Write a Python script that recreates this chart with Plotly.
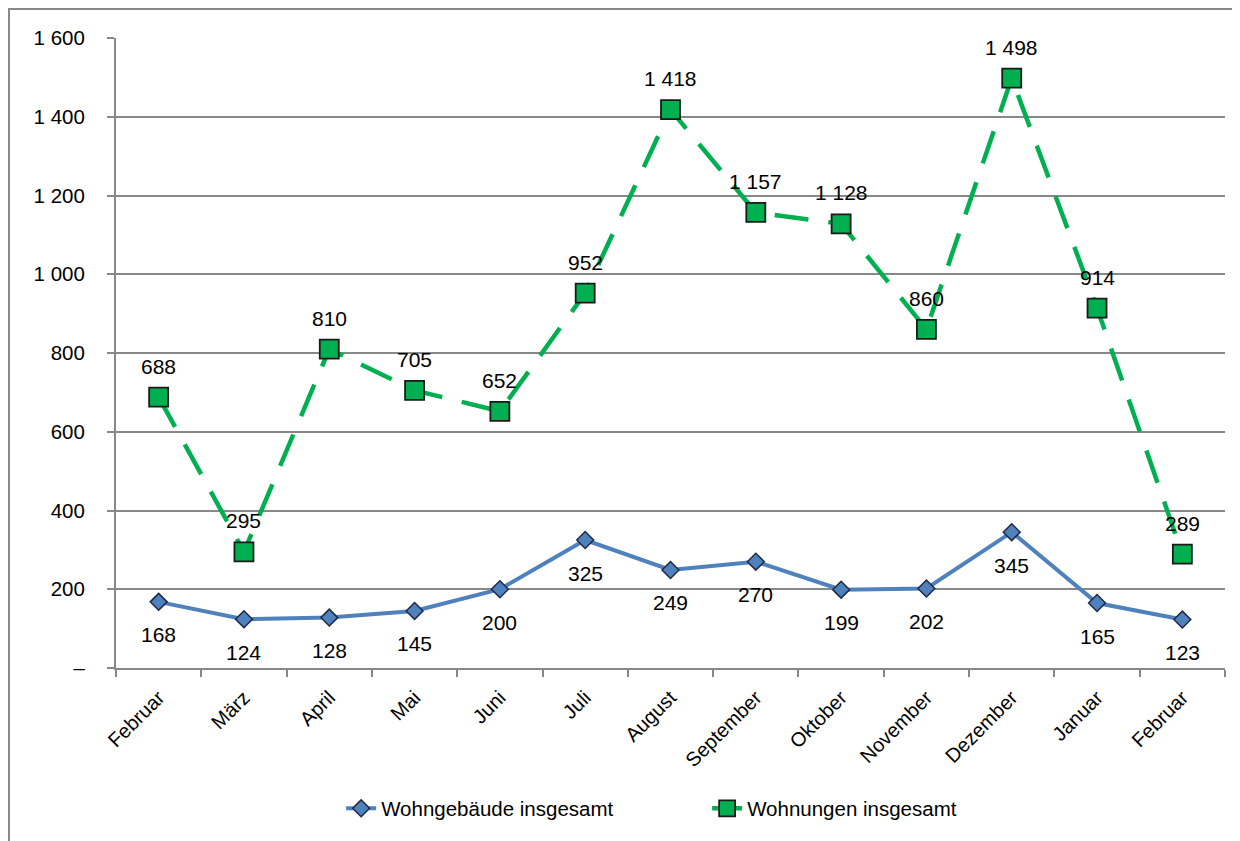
import plotly.graph_objects as go

months = ["Februar", "März", "April", "Mai", "Juni", "Juli", "August", "September",
          "Oktober", "November", "Dezember", "Januar", "Februar"]
wohngebaeude = [168, 124, 128, 145, 200, 325, 249, 270, 199, 202, 345, 165, 123]
wohnungen = [688, 295, 810, 705, 652, 952, 1418, 1157, 1128, 860, 1498, 914, 289]
y_tickvals = [0, 200, 400, 600, 800, 1000, 1200, 1400, 1600]
y_ticktext = ["–", "200", "400", "600", "800", "1 000", "1 200", "1 400", "1 600"]

x = list(range(len(months)))

def fmt(v):
    return f"{v:,}".replace(",", " ")

fig = go.Figure()
fig.add_trace(go.Scatter(
    x=x, y=wohngebaeude, mode="lines+markers", name="Wohngebäude insgesamt",
    line=dict(color="#4F81BD", width=4),
    marker=dict(symbol="diamond", size=13, color="#4F81BD", line=dict(color="#1F2A44", width=1.5)),
))
fig.add_trace(go.Scatter(
    x=x, y=wohnungen, mode="lines+markers", name="Wohnungen insgesamt",
    line=dict(color="#00B050", width=4.5, dash="34px,20px"),
    marker=dict(symbol="square", size=19, color="#00B050", line=dict(color="#1a1a1a", width=1.8)),
))

annotations = []
for i, v in enumerate(wohnungen):
    annotations.append(dict(x=i, y=v, text=fmt(v), showarrow=False, yshift=31,
                            font=dict(size=21, color="#000000")))
for i, v in enumerate(wohngebaeude):
    annotations.append(dict(x=i, y=v, text=fmt(v), showarrow=False, yshift=-33,
                            font=dict(size=21, color="#000000")))

fig.update_layout(
    width=1232, height=833,
    margin=dict(l=108, r=15, t=30, b=170),
    paper_bgcolor="white", plot_bgcolor="white",
    font=dict(family="Liberation Sans, Arial, sans-serif", size=19, color="#000000"),
    showlegend=True,
    legend=dict(orientation="h", x=0.203, xanchor="left", y=-0.223, yanchor="middle",
                font=dict(size=20.5), entrywidth=321, entrywidthmode="pixels"),
    annotations=annotations,
    xaxis=dict(
        range=[-0.5, len(months) - 0.5],
        tickmode="array", tickvals=x, ticktext=months, tickangle=-45,
        showgrid=False, showline=True, linecolor="#888888", linewidth=2,
        ticks="", tickfont=dict(size=20), ticklabelstandoff=8,
        minor=dict(tickmode="array", tickvals=[i + 0.5 for i in range(-1, len(months))],
                   ticks="outside", ticklen=7, tickcolor="#888888", tickwidth=2, showgrid=False),
        zeroline=False,
    ),
    yaxis=dict(
        range=[0, 1600], tickmode="array", tickvals=y_tickvals, ticktext=y_ticktext,
        showgrid=True, gridcolor="#888888", gridwidth=1.5,
        showline=True, linecolor="#888888", linewidth=2,
        ticks="outside", ticklen=7, tickcolor="#888888", tickwidth=2,
        tickfont=dict(size=20.5), zeroline=False, ticklabelstandoff=18,
    ),
    shapes=[dict(type="rect", xref="paper", yref="paper",
                 x0=-0.0965, x1=1.03, y0=-0.3, y1=1.0459,
                 line=dict(color="#888888", width=2), layer="below")],
)

fig.write_html("out.html")
